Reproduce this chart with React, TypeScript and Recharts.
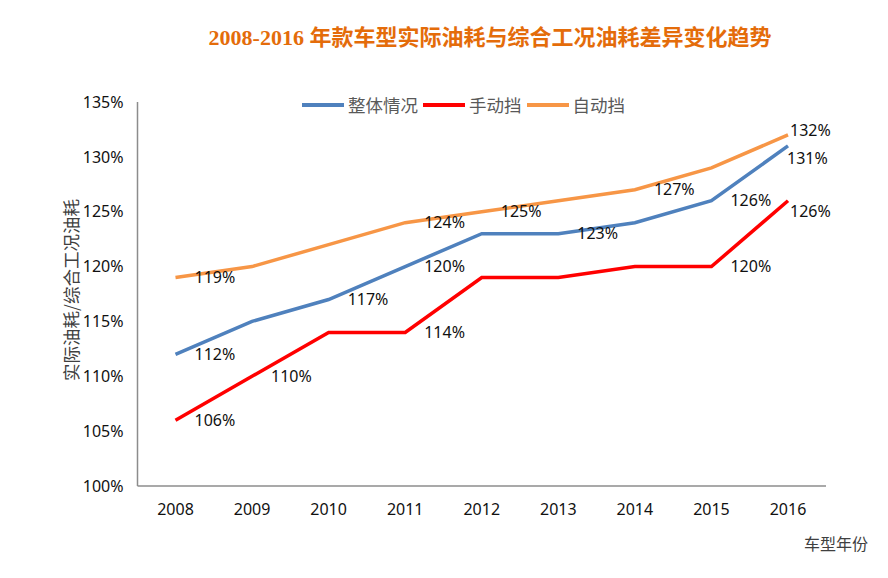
import React from 'react';
import { Line, LineChart, XAxis, YAxis } from 'recharts';

const years = ['2008', '2009', '2010', '2011', '2012', '2013', '2014', '2015', '2016'];
const overall = [112, 115, 117, 120, 123, 123, 124, 126, 131];
const manual = [106, 110, 114, 114, 119, 119, 120, 120, 126];
const automatic = [119, 120, 122, 124, 125, 126, 127, 129, 132];

// which points carry a value label
const overallLabelled = [0, 2, 3, 5, 7, 8];
const manualLabelled = [0, 1, 3, 7, 8];
const automaticLabelled = [0, 3, 4, 6, 8];

const yTicks = [100, 105, 110, 115, 120, 125, 130, 135];

const data = years.map((year, i) => ({
  year,
  overall: overall[i],
  manual: manual[i],
  automatic: automatic[i],
}));

const BLUE = '#4F81BD';
const RED = '#FF0000';
const ORANGE = '#F79646';
const FONT = '"Noto Sans", "Noto Sans CJK SC", sans-serif';
const CJK = '"Noto Sans CJK SC", sans-serif';

const legendItems = [
  { name: '整体情况', color: BLUE },
  { name: '手动挡', color: RED },
  { name: '自动挡', color: ORANGE },
];

// the last point's label is pulled back inside the plot, as Excel does
const makeLabel =
  (shown: number[], endDx: number, endDy: number) =>
  (props: any) => {
    const { x, y, index, value } = props;
    if (!shown.includes(index)) return <g key={`l-${index}`} />;
    const last = index === years.length - 1;
    return (
      <text
        key={`l-${index}`}
        x={x + (last ? endDx : 19)}
        y={y + (last ? endDy : 0)}
        dy='0.35em'
        fontSize={16}
        fontFamily={FONT}
        fill='#111'
      >
        {`${value}%`}
      </text>
    );
  };

export default function App() {
  return (
    <div style={{ position: 'absolute', left: 0, top: 0, width: 888, height: 578, background: '#fff' }}>
      <div
        style={{
          position: 'absolute',
          left: 0,
          width: 888,
          top: 19,
          textAlign: 'center',
          paddingLeft: 92,
          boxSizing: 'border-box',
          fontFamily: '"Liberation Serif", "Noto Sans CJK SC", serif',
          fontWeight: 'bold',
          fontSize: 22,
          color: '#E46C0A',
        }}
      >
        2008-2016 年款车型实际油耗与综合工况油耗差异变化趋势
      </div>
      <div
        style={{
          position: 'absolute',
          left: 302,
          top: 92,
          display: 'flex',
          alignItems: 'center',
          fontFamily: CJK,
          fontSize: 17.5,
          color: '#595959',
        }}
      >
        {legendItems.map((item) => (
          <div key={item.name} style={{ display: 'flex', alignItems: 'center', marginRight: 5 }}>
            <span
              style={{
                display: 'inline-block',
                width: 42,
                height: 4,
                background: item.color,
                marginRight: 4,
              }}
            />
            <span>{item.name}</span>
          </div>
        ))}
      </div>
      <div
        style={{
          position: 'absolute',
          left: 70,
          top: 290,
          transform: 'translate(-50%, -50%) rotate(-90deg)',
          whiteSpace: 'nowrap',
          fontFamily: CJK,
          fontSize: 17.5,
          color: '#404040',
        }}
      >
        实际油耗/综合工况油耗
      </div>
      <div
        style={{
          position: 'absolute',
          left: 804,
          top: 531,
          fontFamily: CJK,
          fontSize: 16,
          color: '#404040',
        }}
      >
        车型年份
      </div>
      <LineChart
        width={888}
        height={578}
        data={data}
        margin={{ top: 102, right: 62, bottom: 62, left: 0 }}
      >
        <XAxis
          dataKey='year'
          height={30}
          padding={{ left: 38, right: 38 }}
          tickLine={false}
          tickMargin={12}
          axisLine={{ stroke: '#8c8c8c', strokeWidth: 1.5 }}
          tick={{ fontSize: 16, fontFamily: FONT, fill: '#111' }}
        />
        <YAxis
          width={137.5}
          domain={[100, 135]}
          ticks={yTicks}
          tickLine={false}
          tickMargin={8}
          tickFormatter={(v) => `${v}%`}
          axisLine={{ stroke: '#8c8c8c', strokeWidth: 1.5 }}
          tick={{ fontSize: 16, fontFamily: FONT, fill: '#111' }}
        />
        <Line
          dataKey='overall'
          name='整体情况'
          stroke={BLUE}
          strokeWidth={3.5}
          dot={false}
          isAnimationActive={false}
          label={makeLabel(overallLabelled, -1, 13)}
        />
        <Line
          dataKey='manual'
          name='手动挡'
          stroke={RED}
          strokeWidth={3.5}
          dot={false}
          isAnimationActive={false}
          label={makeLabel(manualLabelled, 2, 11)}
        />
        <Line
          dataKey='automatic'
          name='自动挡'
          stroke={ORANGE}
          strokeWidth={3.5}
          dot={false}
          isAnimationActive={false}
          label={makeLabel(automaticLabelled, 2, -5)}
        />
      </LineChart>
    </div>
  );
}
